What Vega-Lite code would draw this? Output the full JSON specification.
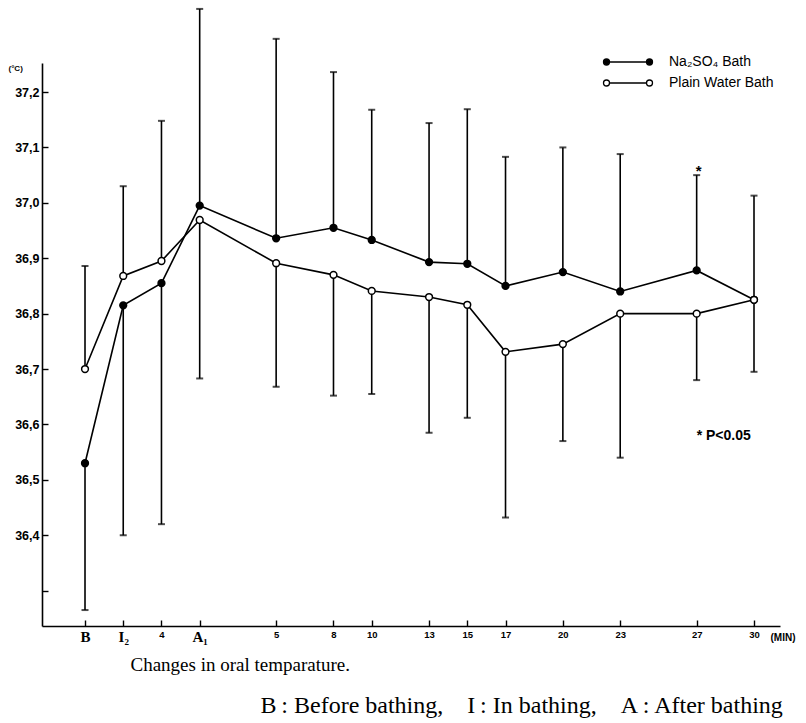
{
  "$schema": "https://vega.github.io/schema/vega-lite/v6.json",
  "width": 738,
  "height": 563,
  "autosize": {"type": "none"},
  "padding": {"left": 42, "top": 63, "right": 26, "bottom": 97},
  "background": "white",
  "config": {
    "view": {"stroke": null},
    "axis": {"grid": false, "domainColor": "black", "tickColor": "black", "labelColor": "black", "titleColor": "black", "domainWidth": 1.6, "tickWidth": 1.4}
  },
  "data": {
    "values": [
      {"t": 0, "series": "Na₂SO₄ Bath", "mean": 36.53, "bar": 36.265},
      {"t": 2, "series": "Na₂SO₄ Bath", "mean": 36.815, "bar": 36.4},
      {"t": 4, "series": "Na₂SO₄ Bath", "mean": 36.855, "bar": 36.42},
      {"t": 6, "series": "Na₂SO₄ Bath", "mean": 36.995, "bar": 37.35},
      {"t": 10, "series": "Na₂SO₄ Bath", "mean": 36.936, "bar": 37.296},
      {"t": 13, "series": "Na₂SO₄ Bath", "mean": 36.955, "bar": 37.236},
      {"t": 15, "series": "Na₂SO₄ Bath", "mean": 36.933, "bar": 37.168},
      {"t": 18, "series": "Na₂SO₄ Bath", "mean": 36.893, "bar": 37.144},
      {"t": 20, "series": "Na₂SO₄ Bath", "mean": 36.89, "bar": 37.169},
      {"t": 22, "series": "Na₂SO₄ Bath", "mean": 36.85, "bar": 37.083},
      {"t": 25, "series": "Na₂SO₄ Bath", "mean": 36.875, "bar": 37.1},
      {"t": 28, "series": "Na₂SO₄ Bath", "mean": 36.84, "bar": 37.088},
      {"t": 32, "series": "Na₂SO₄ Bath", "mean": 36.878, "bar": 37.05},
      {"t": 35, "series": "Na₂SO₄ Bath", "mean": 36.825, "bar": 37.013},
      {"t": 0, "series": "Plain Water Bath", "mean": 36.7, "bar": 36.886},
      {"t": 2, "series": "Plain Water Bath", "mean": 36.868, "bar": 37.03},
      {"t": 4, "series": "Plain Water Bath", "mean": 36.895, "bar": 37.148},
      {"t": 6, "series": "Plain Water Bath", "mean": 36.969, "bar": 36.683},
      {"t": 10, "series": "Plain Water Bath", "mean": 36.891, "bar": 36.668},
      {"t": 13, "series": "Plain Water Bath", "mean": 36.87, "bar": 36.652},
      {"t": 15, "series": "Plain Water Bath", "mean": 36.841, "bar": 36.655},
      {"t": 18, "series": "Plain Water Bath", "mean": 36.83, "bar": 36.585},
      {"t": 20, "series": "Plain Water Bath", "mean": 36.816, "bar": 36.612},
      {"t": 22, "series": "Plain Water Bath", "mean": 36.731, "bar": 36.432},
      {"t": 25, "series": "Plain Water Bath", "mean": 36.745, "bar": 36.57},
      {"t": 28, "series": "Plain Water Bath", "mean": 36.8, "bar": 36.54},
      {"t": 32, "series": "Plain Water Bath", "mean": 36.8, "bar": 36.68},
      {"t": 35, "series": "Plain Water Bath", "mean": 36.825, "bar": 36.695}
    ]
  },
  "layer": [
    {
      "mark": {"type": "rule", "color": "black", "strokeWidth": 1.6},
      "encoding": {
        "x": {
          "field": "t", "type": "quantitative",
          "scale": {"domain": [-2.25, 36.36], "nice": false, "zero": false},
          "axis": {
            "orient": "bottom",
            "values": [0, 2, 4, 6, 10, 13, 15, 18, 20, 22, 25, 28, 32, 35],
            "labelExpr": "({'0':'B','2':'I₂','4':'4','6':'A₁','10':'5','13':'8','15':'10','18':'13','20':'15','22':'17','25':'20','28':'23','32':'27','35':'30'})[datum.value + '']",
            "tickSize": -6,
            "labelPadding": 9,
            "labelFont": {"condition": {"test": "datum.value == 0 || datum.value == 2 || datum.value == 6", "value": "Liberation Serif"}, "value": "Liberation Sans"},
            "labelFontSize": {"condition": {"test": "datum.value == 0 || datum.value == 2 || datum.value == 6", "value": 15}, "value": 9.5},
            "labelFontWeight": "bold",
            "labelBaseline": "top",
            "title": "Changes in oral temparature.",
            "titleFont": "Liberation Serif",
            "titleFontSize": 19,
            "titleFontWeight": "normal",
            "titleAngle": 0,
            "titleAlign": "left",
            "titleBaseline": "alphabetic",
            "titleX": 88,
            "titleY": 44
          }
        },
        "y": {
          "field": "mean", "type": "quantitative",
          "scale": {"domain": [36.2362, 37.2524], "nice": false, "zero": false},
          "axis": {
            "orient": "left",
            "values": [36.3, 36.4, 36.5, 36.6, 36.7, 36.8, 36.9, 37.0, 37.1, 37.2],
            "labelExpr": "datum.value < 36.35 ? '' : replace(format(datum.value, '.1f'), '.', ',')",
            "tickSize": -6,
            "labelPadding": 9,
            "labelFont": "Liberation Sans",
            "labelFontSize": 12.5,
            "labelFontWeight": "bold",
            "title": "(°C)",
            "titleFont": "Liberation Sans",
            "titleFontSize": 8,
            "titleFontWeight": "bold",
            "titleAngle": 0,
            "titleAlign": "left",
            "titleBaseline": "alphabetic",
            "titleX": -34,
            "titleY": 7
          }
        },
        "y2": {"field": "bar"}
      }
    },
    {
      "mark": {"type": "tick", "orient": "horizontal", "color": "black", "size": 7, "thickness": 2},
      "encoding": {
        "x": {"field": "t", "type": "quantitative", "axis": null},
        "y": {"field": "bar", "type": "quantitative", "axis": null}
      }
    },
    {
      "mark": {"type": "line", "color": "black", "strokeWidth": 1.6},
      "encoding": {
        "x": {"field": "t", "type": "quantitative", "axis": null},
        "y": {"field": "mean", "type": "quantitative", "axis": null},
        "detail": {"field": "series"}
      }
    },
    {
      "mark": {"type": "point", "filled": false, "stroke": "black", "strokeWidth": 1.5, "opacity": 1, "size": 46},
      "encoding": {
        "x": {"field": "t", "type": "quantitative", "axis": null},
        "y": {"field": "mean", "type": "quantitative", "axis": null},
        "fill": {
          "field": "series", "type": "nominal",
          "scale": {"domain": ["Na₂SO₄ Bath", "Plain Water Bath"], "range": ["black", "white"]},
          "legend": {
            "orient": "none",
            "legendX": 575,
            "legendY": -12,
            "title": null,
            "symbolType": "M -1.85 0 L 1.85 0 M -2.45 0 A 0.3 0.3 0 1 0 -1.85 0 A 0.3 0.3 0 1 0 -2.45 0 M 1.85 0 A 0.3 0.3 0 1 0 2.45 0 A 0.3 0.3 0 1 0 1.85 0",
            "symbolSize": 400,
            "symbolStrokeColor": "black",
            "symbolStrokeWidth": 1.3,
            "symbolOpacity": 1,
            "labelFont": "Liberation Sans",
            "labelFontSize": 14,
            "labelColor": "black",
            "labelOffset": 30,
            "rowPadding": 3
          }
        }
      }
    },
    {
      "data": {"values": [{"t": 32, "v": 37.058, "note": "*"}]},
      "mark": {"type": "text", "font": "Liberation Sans", "fontSize": 15, "fontWeight": "bold", "align": "left", "baseline": "middle", "dx": -1, "color": "black"},
      "encoding": {
        "x": {
          "field": "t", "type": "quantitative",
          "axis": {
            "orient": "top", "domain": false, "ticks": false, "labels": false,
            "title": "(MIN)",
            "titleFont": "Liberation Sans", "titleFontSize": 10, "titleFontWeight": "bold",
            "titleAngle": 0, "titleAlign": "left", "titleBaseline": "alphabetic",
            "titleX": 728, "titleY": 577
          }
        },
        "y": {
          "field": "v", "type": "quantitative",
          "axis": {
            "orient": "right", "domain": false, "ticks": false, "labels": false,
            "title": "B\u2009: Before bathing,\u2003I\u2009: In bathing,\u2003A\u2009: After bathing",
            "titleFont": "Liberation Serif", "titleFontSize": 24, "titleFontWeight": "normal",
            "titleAngle": 0, "titleAlign": "left", "titleBaseline": "alphabetic",
            "titleX": -520, "titleY": 649
          }
        },
        "text": {"field": "note"}
      }
    },
    {
      "data": {"values": [{"t": 32, "v": 36.58, "note": "* P<0.05"}]},
      "mark": {"type": "text", "font": "Liberation Sans", "fontSize": 14, "fontWeight": "bold", "align": "left", "baseline": "middle", "dx": 0, "color": "black"},
      "encoding": {
        "x": {"field": "t", "type": "quantitative", "axis": null},
        "y": {"field": "v", "type": "quantitative", "axis": null},
        "text": {"field": "note"}
      }
    }
  ],
  "resolve": {"axis": {"x": "independent", "y": "independent"}}
}
